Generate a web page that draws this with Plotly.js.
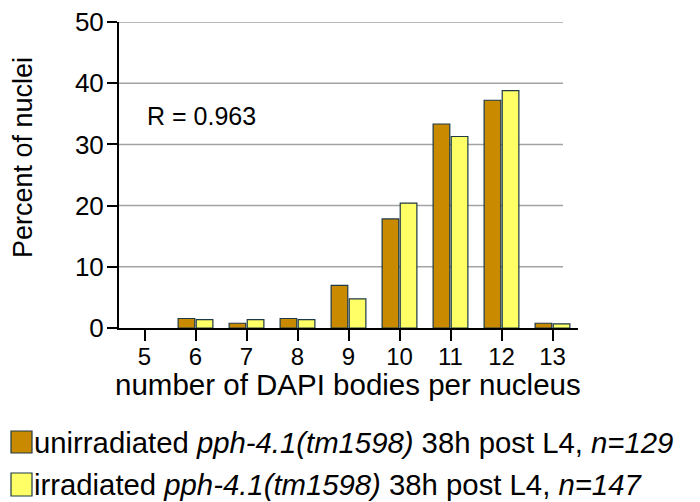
<!DOCTYPE html>
<html><head><meta charset="utf-8">
<script src="https://cdn.plot.ly/plotly-3.0.1.min.js"></script>
<style>html,body{margin:0;padding:0;background:#fff}#chart{width:700px;height:502px}</style>
</head><body><div id="chart"></div>
<script>
const categories = ['5','6','7','8','9','10','11','12','13'];
const unirradiated = [0, 1.55, 0.78, 1.55, 6.98, 17.83, 33.33, 37.21, 0.78];
const irradiated   = [0, 1.36, 1.36, 1.36, 4.76, 20.41, 31.29, 38.78, 0.68];
const seriesNames = [
  'unirradiated <i>pph-4.1(tm1598)</i> 38h post L4, <i>n=129</i>',
  'irradiated <i>pph-4.1(tm1598)</i> 38h post L4, <i>n=147</i>'
];
const yTicks = [0,10,20,30,40,50];
const colors = ['#C98A00', '#FFFF66'];
const FONT = 'Liberation Sans, Arial, Helvetica, sans-serif';

const traces = [unirradiated, irradiated].map((v,i)=>({
  type:'bar', x:categories, y:v, name:seriesNames[i],
  marker:{color:colors[i], line:{color:'#1e3a44', width:v.map(d=>d>0?1.2:0)}},
  showlegend:false, hoverinfo:'none'
}));

const L=119, R=578, T=22, B=328;
const W=R-L, H=B-T;
const px = x => (x-L)/W, py = y => (B-y)/H;

const shapes = [];
yTicks.filter(t=>t>0).forEach(t=>shapes.push({type:'line', xref:'paper', yref:'y', x0:0, x1:px(563), y0:t, y1:t, line:{color:'#a3a3a3', width:1.5}, layer:'below'}));
// legend swatches
[[431,453],[473,496]].forEach((r,i)=>shapes.push({type:'rect', xref:'paper', yref:'paper', x0:px(11), x1:px(32), y0:py(r[1]), y1:py(r[0]), fillcolor:colors[i], line:{color:'#1e3a44', width:1.2}}));

const annotations = [
  {xref:'paper', yref:'paper', x:px(145), y:py(116), xanchor:'left', yanchor:'middle', text:'R = 0.963', showarrow:false, font:{family:FONT, size:25, color:'#000'}},
  {xref:'paper', yref:'paper', x:px(32), y:py(442), xanchor:'left', yanchor:'middle', text:seriesNames[0], showarrow:false, font:{family:FONT, size:29.3, color:'#000'}},
  {xref:'paper', yref:'paper', x:px(32), y:py(484), xanchor:'left', yanchor:'middle', text:seriesNames[1], showarrow:false, font:{family:FONT, size:29.3, color:'#000'}},
  {xref:'paper', yref:'paper', x:px(347.5), y:py(384), xanchor:'center', yanchor:'middle', text:'number of DAPI bodies per nucleus', showarrow:false, font:{family:FONT, size:29.5, color:'#000'}},
  {xref:'paper', yref:'paper', x:px(23), y:py(158), xanchor:'center', yanchor:'middle', textangle:-90, text:'Percent of nuclei', showarrow:false, font:{family:FONT, size:27, color:'#000'}}
];

const layout = {
  width:700, height:502,
  margin:{l:L, r:700-R, t:T, b:502-B, pad:0},
  paper_bgcolor:'#fff', plot_bgcolor:'rgba(0,0,0,0)',
  barmode:'group', bargap:0.29, bargroupgap:0.08,
  font:{family:FONT, color:'#000', size:22},
  xaxis:{type:'category', range:[-0.5,8.5], showgrid:false, showline:true, linecolor:'#000', linewidth:2,
    ticks:'outside', ticklen:11, tickwidth:2, tickcolor:'#000', tickfont:{size:24, family:FONT}, ticklabelstandoff:-5,
    zeroline:false, fixedrange:true},
  yaxis:{range:[0,50], tickvals:yTicks, ticktext:yTicks.map(String), showgrid:false, showline:true, linecolor:'#000', linewidth:2,
    ticks:'outside', ticklen:10, tickwidth:2, tickcolor:'#000', tickfont:{size:26, family:FONT}, ticklabelstandoff:-2,
    zeroline:false, fixedrange:true},
  shapes, annotations
};
Plotly.newPlot('chart', traces, layout, {staticPlot:true, displayModeBar:false});
</script></body></html>
